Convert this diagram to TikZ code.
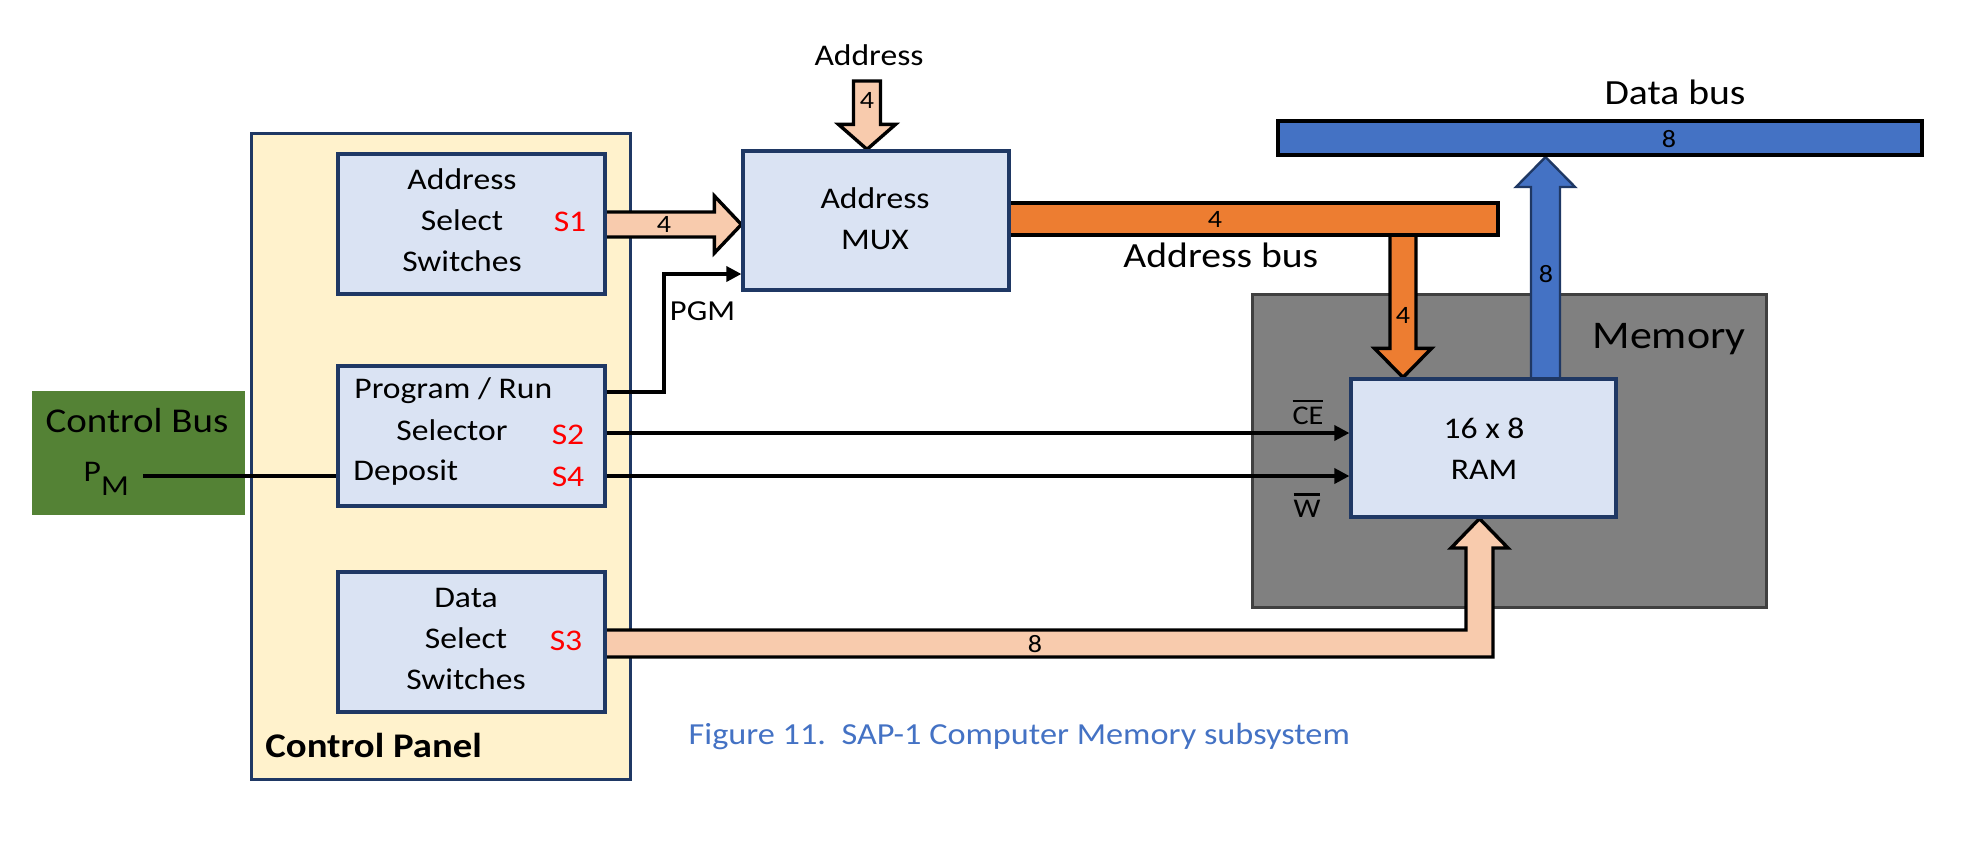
\documentclass[tikz,border=0pt]{standalone}
\usepackage{fontspec}
\setmainfont{Carlito}[FakeStretch=1.12]
\usetikzlibrary{arrows.meta,calc}
\definecolor{panelfill}{HTML}{FFF2CC}
\definecolor{navy}{HTML}{1F3864}
\definecolor{boxfill}{HTML}{DAE3F3}
\definecolor{ctrlgreen}{HTML}{548235}
\definecolor{peach}{HTML}{F8CBAD}
\definecolor{orangebus}{HTML}{ED7D31}
\definecolor{bluebus}{HTML}{4472C4}
\definecolor{memgray}{HTML}{808080}
\definecolor{memedge}{HTML}{404040}
\definecolor{capblue}{HTML}{4472C4}
\definecolor{sred}{HTML}{FF0000}
\newcommand\ovbar[1]{\vbox{\hrule height 1.3pt\kern 2pt\hbox{#1}}}
\pgfdeclarelayer{back}
\pgfdeclarelayer{mid}
\pgfsetlayers{back,mid,main}
% #1 style, #2 start, #3 tip, #4 half body, #5 half head, #6 head length
\newcommand\fatarr[6]{%
  \coordinate (fa-s) at (#2);
  \coordinate (fa-t) at (#3);
  \coordinate (fa-h) at ($(fa-t)!#6!(fa-s)$);
  \draw[#1] ($(fa-s)!#4!90:(fa-t)$) -- ($(fa-h)!#4!90:(fa-t)$) -- ($(fa-h)!#5!90:(fa-t)$)
    -- (fa-t) -- ($(fa-h)!#5!-90:(fa-t)$) -- ($(fa-h)!#4!-90:(fa-t)$) -- ($(fa-s)!#4!-90:(fa-t)$) -- cycle;
}
\begin{document}
\begin{tikzpicture}[x=0.5pt,y=-0.5pt,
  box/.style={draw=navy, line width=1.6pt, fill=boxfill, inner sep=0pt},
  bar/.style={draw=black, line width=1.7pt, inner sep=0pt},
  fat/.style={draw=black, line width=1.7pt, line join=miter, fill=peach},
  sig/.style={line width=1.7pt, -{Triangle[length=7.5pt,width=7.5pt]}},
  wire/.style={line width=1.7pt},
  lbl/.style={inner sep=0pt, anchor=base},
  lblw/.style={inner sep=0pt, anchor=base west},
  t15/.style={font=\fontsize{15pt}{18pt}\selectfont},
  t12/.style={font=\fontsize{12.5pt}{15pt}\selectfont},
  t14/.style={font=\fontsize{13.5pt}{16pt}\selectfont},
  red/.style={text=sred}
]
\useasboundingbox (0,0) rectangle (1980,846);

% ---- main blocks
\node[box, minimum width=133.5pt, minimum height=70pt] (asel) at (471.5,224) {};
\node[box, minimum width=133.5pt, minimum height=70pt] (prog) at (471.5,436) {};
\node[box, minimum width=133.5pt, minimum height=70pt] (dsel) at (471.5,642) {};
\node[box, minimum width=133pt, minimum height=69.5pt] (mux) at (876,220.5) {};
\node[box, minimum width=132.5pt, minimum height=69pt] (ram) at (1483.5,448) {};

\begin{pgfonlayer}{back}
\node[draw=navy, line width=1.5pt, fill=panelfill, minimum width=189.5pt, minimum height=323pt, inner sep=0pt] (panel) at (440.5,456) {};
\node[fill=ctrlgreen, minimum width=106.5pt, minimum height=62pt, inner sep=0pt] (cbus) at (138.5,453) {};
\node[draw=memedge, line width=1.5pt, fill=memgray, minimum width=257pt, minimum height=156.5pt, inner sep=0pt] (mem) at (1509,450.5) {};
\end{pgfonlayer}

% ---- fat arrows and buses
\begin{pgfonlayer}{mid}
\coordinate (addrin) at (867,81);
\fatarr{fat}{asel.center |- 0,224.5}{mux.west |- 0,224.5}{6.25pt}{14.25pt}{13.5pt}
\fatarr{fat}{addrin}{867,0 |- mux.north}{6.75pt}{14.25pt}{12.5pt}
\fatarr{fat, fill=orangebus}{1403,219}{1403,0 |- ram.north}{6.5pt}{14.25pt}{14.5pt}
\fatarr{draw=navy, line width=1.2pt, line join=miter, fill=bluebus}{1545.5,0 |- ram.center}{1545.5,157}{7.25pt}{14.75pt}{15pt}
\draw[fat] (dsel.center |- 0,630) -- (1466,630) -- (1466,548) -- (1451,548)
  -- (1479.5,0 |- ram.south) -- (1508,548) -- (1493,548) -- (1493,657)
  -- (dsel.center |- 0,657) -- cycle;
\node[bar, fill=orangebus, minimum width=244.5pt, minimum height=16pt] (abus) at (1253.5,219) {};
\node[bar, fill=bluebus, minimum width=322pt, minimum height=17pt] (dbus) at (1600,138) {};
\end{pgfonlayer}

% ---- signal lines
\coordinate (pmstart) at (143,476);
\draw[wire] (pmstart) -- (pmstart -| prog.west);
\coordinate (pgmin) at (mux.west |- 0,274);
\draw[sig] (prog.east |- 0,392) -- (664,392) |- (pgmin);
\draw[sig] (prog.east |- 0,433) -- (ram.west |- 0,433);
\draw[sig] (prog.east |- 0,476) -- (ram.west |- 0,476);

% ---- texts
\node[lbl,t15] (asel1) at (462,189.5) {Address};
\node[lbl,t15] (asel2) at (462,230.7) {Select};
\node[lbl,t15] (asel3) at (462,271) {Switches};
\node[lbl,t15,red] (s1) at (570,231) {S1};
\node[lblw,t15] (prog1) at (354,398.3) {Program / Run};
\node[lbl,t15] (prog2) at (452,440) {Selector};
\node[lblw,t15] (prog3) at (353,480) {Deposit};
\node[lbl,t15,red] (s2) at (568,444.7) {S2};
\node[lbl,t15,red] (s4) at (568,486) {S4};
\node[lbl,t15] (dsel1) at (466,607.7) {Data};
\node[lbl,t15] (dsel2) at (466,648.7) {Select};
\node[lbl,t15] (dsel3) at (466,689.7) {Switches};
\node[lbl,t15,red] (s3) at (566,650.7) {S3};
\node[lbl,t15] (mux1) at (875,208) {Address};
\node[lbl,t15] (mux2) at (875,249.3) {MUX};
\node[lbl,t15] (addrlbl) at (869,65) {Address};
\node[lbl,font=\fontsize{14.5pt}{17pt}\selectfont] (pgm) at (702.5,320) {PGM};
\node[lbl,t15] (ram1) at (1484,438.7) {16 x 8};
\node[lbl,t15] (ram2) at (1484,479.3) {RAM};
\node[lbl,font=\fontsize{17.4pt}{21pt}\selectfont] (cbuslbl) at (137,432.3) {Control Bus};
\node[lblw,font=\fontsize{15pt}{18pt}\selectfont] (pm) at (83.3,481) {P\raisebox{-7.3pt}{\fontsize{14.5pt}{17pt}\selectfont M}};
\node[lbl,font=\fontsize{19.6pt}{24pt}\selectfont] (memlbl) at (1669,348.3) {Memory};
\node[lbl,font=\fontsize{17.7pt}{21pt}\selectfont] (abuslbl) at (1220.8,267.7) {Address bus};
\node[lbl,font=\fontsize{17.7pt}{21pt}\selectfont] (dbuslbl) at (1675,104.3) {Data bus};
\node[lbl,t12] (n1) at (664,232.7) {4};
\node[lbl,t12] (n2) at (867,108.7) {4};
\node[lbl,t12] (n3) at (1215,227.7) {4};
\node[lbl,t12] (n4) at (1403,323.7) {4};
\node[lbl,t12] (n5) at (1669,147.7) {8};
\node[lbl,t12] (n6) at (1546,282.7) {8};
\node[lbl,t12] (n7) at (1035,652.7) {8};
\node[lbl,t14] (ce) at (1308,424) {\ovbar{CE}};
\node[lbl,t14] (we) at (1307,517) {\ovbar{W}};
\node[lblw,font=\fontsize{17.3pt}{21pt}\selectfont\bfseries] (cplbl) at (265,757.7) {Control Panel};
\node[lblw,font=\fontsize{15.3pt}{18pt}\selectfont,text=capblue] (caption) at (688.3,744) {Figure 11.\ \ SAP-1 Computer Memory subsystem};
\end{tikzpicture}
\end{document}
